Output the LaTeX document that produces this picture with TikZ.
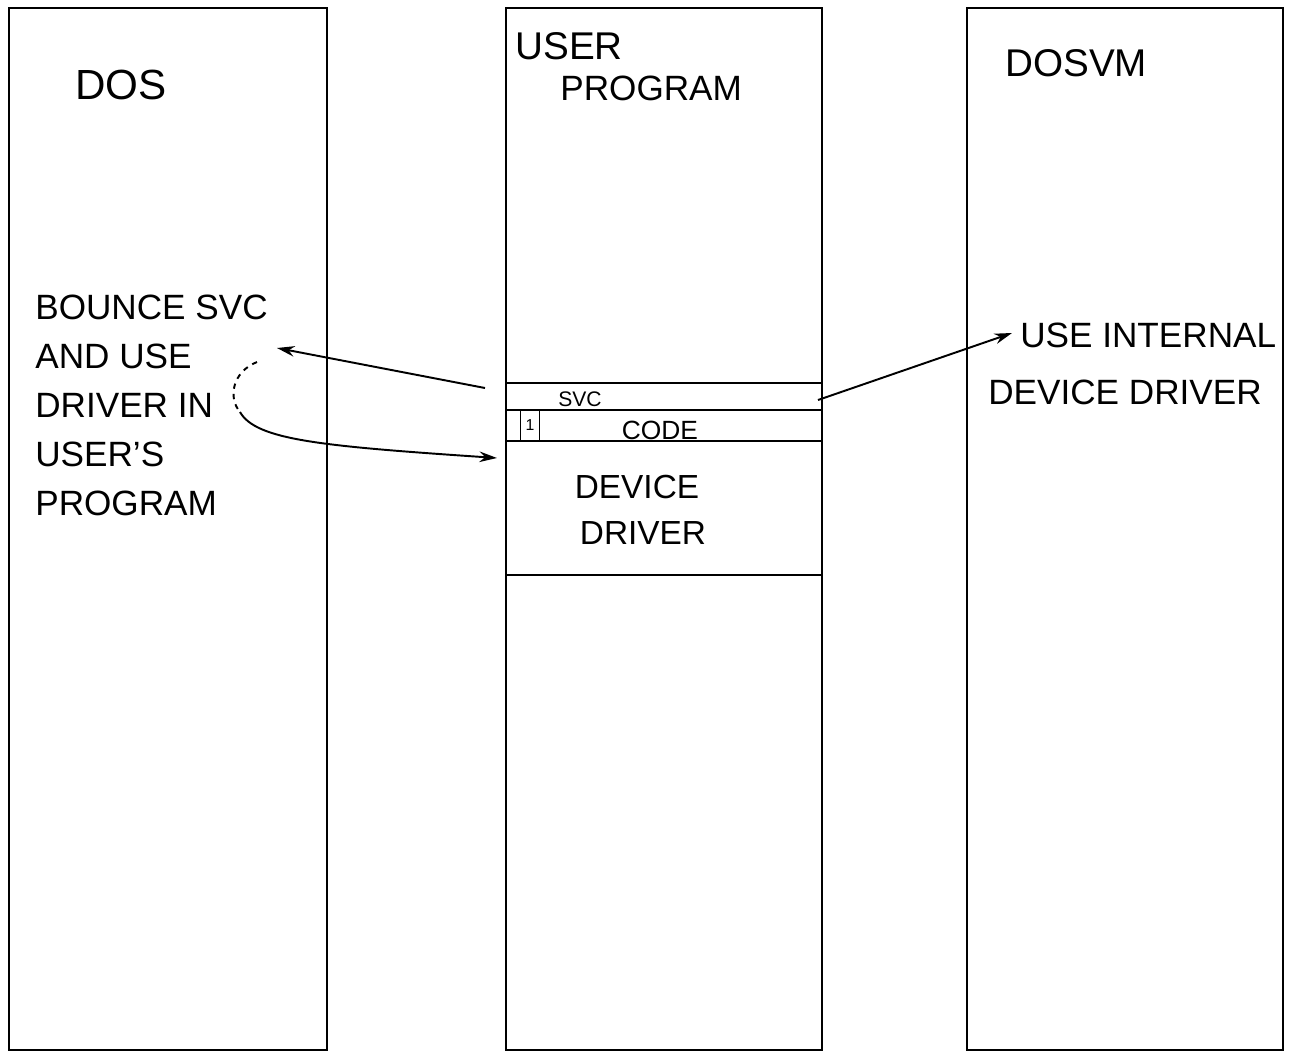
\documentclass[tikz,border=0pt]{standalone}
\usepackage{fontspec}
\setmainfont{Liberation Sans}
\usepackage{tikz}
\usetikzlibrary{arrows.meta,positioning,calc}
\newcommand{\hand}[1]{\fontsize{#1}{1.35\dimexpr#1pt\relax}\selectfont}

\begin{document}
\begin{tikzpicture}[x=0.02cm,y=-0.02cm,
  column/.style={rectangle,draw,line width=1.3pt,minimum width=6.36cm,minimum height=20.84cm,inner sep=0pt},
  band/.style={rectangle,draw,line width=1.3pt,minimum width=6.32cm,inner sep=0pt},
  lbl/.style={inner sep=0pt,anchor=west,font=\hand{20}},
  arr/.style={-{Stealth[length=10pt,width=6pt]},line width=1.1pt},
]
  \useasboundingbox (0,0) rectangle (1292,1052);
  % the three memory columns
  \node[column] (dos) at (168,529) {};
  \node[column,minimum width=6.32cm] (user) at (664,529) {};
  \node[column,minimum width=6.32cm] (dosvm) at (1125,529) {};
  \node[lbl,font=\hand{24}] (dostitle) at (75,85) {DOS};
  \node[lbl,font=\hand{22}] (usertitle) at (515,46) {USER};
  \node[lbl] (progtitle) at (560,88) {PROGRAM};
  \node[lbl,font=\hand{22}] (vmtitle) at (1005,63) {DOSVM};
  % bands inside the user program
  \node[band,minimum height=0.54cm] (svc) at (664,396.5) {};
  \node[band,minimum height=0.62cm] (code) at (664,425.5) {};
  \node[band,minimum height=2.68cm] (driver) at (664,508) {};
  \node[rectangle,draw,line width=1pt,minimum width=0.38cm,minimum height=0.6cm,inner sep=0pt,font=\hand{9}] (one) at (530,425.5) {1};
  \node[inner sep=0pt,font=\hand{12}] (svclbl) at (580,399) {SVC};
  \node[inner sep=0pt,font=\hand{15}] (codelbl) at (660,430) {CODE};
  \node[inner sep=0pt,font=\hand{19}] (devlbl) at (637,487) {DEVICE};
  \node[inner sep=0pt,font=\hand{19}] (drvlbl) at (643,533) {DRIVER};
  % notes
  \node[lbl,align=left,anchor=north west,font=\fontsize{20}{27.8}\selectfont] (bounce) at (35,295)
    {BOUNCE SVC\\AND USE\\DRIVER IN\\USER'S\\PROGRAM};
  \node[lbl] (useint) at (1020,335) {USE INTERNAL};
  \node[lbl] (devdrv) at (988,392) {DEVICE DRIVER};
  % connectors
  \coordinate (svcL) at (485,388);
  \coordinate (bounceTip) at (277,348);
  \coordinate (loopTop) at (257,362);
  \coordinate (loopBot) at (240,412);
  \coordinate (driverIn) at (497,458);
  \coordinate (svcR) at (818,400);
  \coordinate (useTip) at (1012,333);
  \draw[arr] (svcL) -- (bounceTip);
  \draw[line width=1.1pt,dashed] (loopTop) .. controls (232,372) and (228,398) .. (loopBot);
  \draw[arr] (loopBot) .. controls (256,440) and (320,446) .. (driverIn);
  \draw[arr] (svcR) -- (useTip);
\end{tikzpicture}
\end{document}
